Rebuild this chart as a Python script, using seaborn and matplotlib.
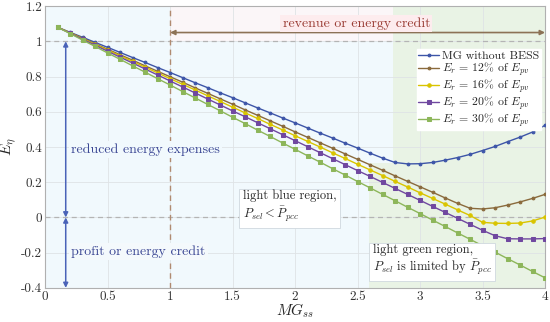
import numpy as np
import pandas as pd
import matplotlib
matplotlib.use("Agg")
import matplotlib.pyplot as plt
import seaborn as sns

# %%
# data
mg_ss = [0.1, 0.2, 0.3, 0.4, 0.5, 0.6, 0.7, 0.8, 0.9, 1.0,
         1.1, 1.2, 1.3, 1.4, 1.5, 1.6, 1.7, 1.8, 1.9, 2.0,
         2.1, 2.2, 2.3, 2.4, 2.5, 2.6, 2.7, 2.8, 2.9, 3.0,
         3.1, 3.2, 3.3, 3.4, 3.5, 3.6, 3.7, 3.8, 3.9, 4.0]

no_bess = [1.080, 1.051, 1.023, 0.994, 0.966, 0.937, 0.908, 0.880, 0.851, 0.823,
           0.794, 0.765, 0.737, 0.708, 0.680, 0.651, 0.622, 0.594, 0.565, 0.537,
           0.508, 0.479, 0.451, 0.422, 0.394, 0.365, 0.337, 0.312, 0.304, 0.305,
           0.312, 0.325, 0.340, 0.358, 0.380, 0.403, 0.430, 0.456, 0.485, 0.523]

er_12 = [1.080, 1.049, 1.018, 0.986, 0.955, 0.924, 0.893, 0.861, 0.830, 0.799,
         0.768, 0.736, 0.705, 0.674, 0.643, 0.611, 0.580, 0.549, 0.518, 0.486,
         0.455, 0.424, 0.393, 0.361, 0.330, 0.299, 0.268, 0.236, 0.205, 0.174,
         0.143, 0.111, 0.080, 0.052, 0.048, 0.055, 0.070, 0.088, 0.108, 0.131]

er_16 = [1.080, 1.048, 1.015, 0.983, 0.950, 0.918, 0.886, 0.853, 0.821, 0.788,
         0.756, 0.724, 0.691, 0.659, 0.626, 0.594, 0.562, 0.529, 0.497, 0.464,
         0.432, 0.400, 0.367, 0.335, 0.302, 0.270, 0.238, 0.205, 0.173, 0.140,
         0.108, 0.076, 0.043, 0.011, -0.028, -0.033, -0.034, -0.032, -0.020, 0.002]

er_20 = [1.080, 1.046, 1.012, 0.978, 0.944, 0.910, 0.877, 0.843, 0.809, 0.775,
         0.741, 0.707, 0.673, 0.639, 0.605, 0.572, 0.538, 0.504, 0.470, 0.436,
         0.402, 0.368, 0.334, 0.300, 0.266, 0.233, 0.199, 0.165, 0.131, 0.097,
         0.063, 0.029, -0.005, -0.039, -0.073, -0.104, -0.121, -0.122, -0.122, -0.120]

er_30 = [1.080, 1.044, 1.007, 0.971, 0.934, 0.898, 0.861, 0.825, 0.788, 0.752,
         0.715, 0.679, 0.642, 0.606, 0.569, 0.533, 0.496, 0.460, 0.423, 0.387,
         0.350, 0.314, 0.277, 0.241, 0.204, 0.168, 0.131, 0.095, 0.058, 0.022,
         -0.015, -0.051, -0.088, -0.124, -0.161, -0.197, -0.234, -0.270, -0.307, -0.343]

series_labels = ["MG without BESS",
                 r"$E_r\,=\,12\%$ of $E_{pv}$",
                 r"$E_r\,=\,16\%$ of $E_{pv}$",
                 r"$E_r\,=\,20\%$ of $E_{pv}$",
                 r"$E_r\,=\,30\%$ of $E_{pv}$"]
series_values = [no_bess, er_12, er_16, er_20, er_30]

x_ticks = [0, 0.5, 1, 1.5, 2, 2.5, 3, 3.5, 4]
x_ticklabels = ["0", "0.5", "1", "1.5", "2", "2.5", "3", "3.5", "4"]
y_ticks = [-0.4, -0.2, 0, 0.2, 0.4, 0.6, 0.8, 1.0, 1.2]
y_ticklabels = ["-0.4", "-0.2", "0", "0.2", "0.4", "0.6", "0.8", "1", "1.2"]

# %%
sns.set_style("white")
plt.rcParams["font.family"] = ["cmr10", "DejaVu Serif"]
plt.rcParams["mathtext.fontset"] = "cm"
plt.rcParams["axes.unicode_minus"] = False
plt.rcParams["axes.formatter.use_mathtext"] = True

colors = ["#3d55a8", "#8a6a3c", "#d9c400", "#7048a0", "#8db65a"]
markers = [".", ".", ".", "s", "s"]
msizes = [4, 4, 5, 3.2, 3.2]

fig = plt.figure(figsize=(5.5, 3.22), dpi=100)
ax = fig.add_axes([0.082, 0.106, 0.909, 0.875])
ax.set_facecolor("#f1f9fd")

# background regions
ax.axvspan(2.78, 4, ymin=0.444, ymax=1, color="#e9f3e5", lw=0, zorder=0)
ax.axvspan(2.59, 4, ymin=0, ymax=0.444, color="#e9f3e5", lw=0, zorder=0)
ax.axvspan(1, 2.78, ymin=0.875, ymax=1, color="#fbf6f8", lw=0, zorder=0)

ax.grid(True, color="#dfe3e6", lw=0.6, zorder=0.5)
ax.set_axisbelow(True)

ax.axhline(1, color="#b4b4b4", ls=(0, (4, 3)), lw=0.9, zorder=1)
ax.axhline(0, color="#b4b4b4", ls=(0, (4, 3)), lw=0.9, zorder=1)
ax.axvline(1, color="#b08a70", ls=(0, (4, 3)), lw=1.0, zorder=1)

for lab, vals, c, m, ms in zip(series_labels, series_values, colors, markers, msizes):
    df = pd.DataFrame({"x": mg_ss, "y": vals})
    sns.lineplot(data=df, x="x", y="y", ax=ax, color=c, lw=1.0, marker=m,
                 markersize=ms, markeredgecolor=c, label=lab, zorder=3)

# arrows
ax.annotate("", xy=(0.165, 1.0), xytext=(0.165, 0.0),
            arrowprops=dict(arrowstyle="<|-|>", color="#4a63b8", lw=1.1,
                            mutation_scale=7, shrinkA=0, shrinkB=0), zorder=4)
ax.annotate("", xy=(0.165, 0.0), xytext=(0.165, -0.4),
            arrowprops=dict(arrowstyle="<|-|>", color="#4a63b8", lw=1.1,
                            mutation_scale=7, shrinkA=0, shrinkB=0), zorder=4)
ax.annotate("", xy=(1.0, 1.05), xytext=(4.0, 1.05),
            arrowprops=dict(arrowstyle="<|-|>", color="#8c7256", lw=1.2,
                            mutation_scale=7, shrinkA=0, shrinkB=0), zorder=4)

# texts
ax.text(0.21, 0.385, "reduced energy expenses", color="#3b4794", fontsize=10,
        va="center", ha="left", zorder=5,
        bbox=dict(boxstyle="square,pad=0.15", fc="#f1f9fd", ec="none"))
ax.text(0.21, -0.195, "profit or energy credit", color="#3b4794", fontsize=10,
        va="center", ha="left", zorder=5,
        bbox=dict(boxstyle="square,pad=0.15", fc="#f4f9fc", ec="none"))
ax.text(2.49, 1.1, "revenue or energy credit", color="#9a3c34", fontsize=10,
        va="center", ha="center", zorder=5,
        bbox=dict(boxstyle="square,pad=0.15", fc="#fdecee", ec="none"))
ax.text(1.58, 0.06, "light blue region,\n" + r"$P_{sel} < \bar{P}_{pcc}$",
        fontsize=9, va="center", ha="left", zorder=5, linespacing=1.2,
        bbox=dict(boxstyle="square,pad=0.3", fc="white", ec="#cfd8de", lw=0.6))
ax.text(2.62, -0.245, "light green region,\n" + r"$P_{sel}$ is limited by $\bar{P}_{pcc}$",
        fontsize=9, va="center", ha="left", zorder=5, linespacing=1.2,
        bbox=dict(boxstyle="square,pad=0.3", fc="white", ec="#cfd8de", lw=0.6))

leg = ax.legend(loc="upper right", bbox_to_anchor=(1.003, 0.868), fontsize=8.5,
                frameon=True, fancybox=False, framealpha=1, edgecolor="white",
                handlelength=1.7, handletextpad=0.3, borderpad=0.12, labelspacing=-0.05)
leg.set_zorder(6)

ax.set_xlim(0, 4)
ax.set_ylim(-0.4, 1.2)
ax.set_xticks(x_ticks)
ax.set_xticklabels(x_ticklabels)
ax.set_yticks(y_ticks)
ax.set_yticklabels(y_ticklabels)
ax.tick_params(labelsize=9.5, colors="#333333", length=3, direction="in", pad=2)
ax.set_xlabel(r"$MG_{ss}$", fontsize=11, labelpad=-1)
ax.set_ylabel(r"$E_{\eta}$", fontsize=11)
ax.yaxis.set_label_coords(-0.052, 0.5)
for s in ax.spines.values():
    s.set_color("#b0b0b0")
    s.set_linewidth(0.8)

fig.savefig("out.png", dpi=100)
